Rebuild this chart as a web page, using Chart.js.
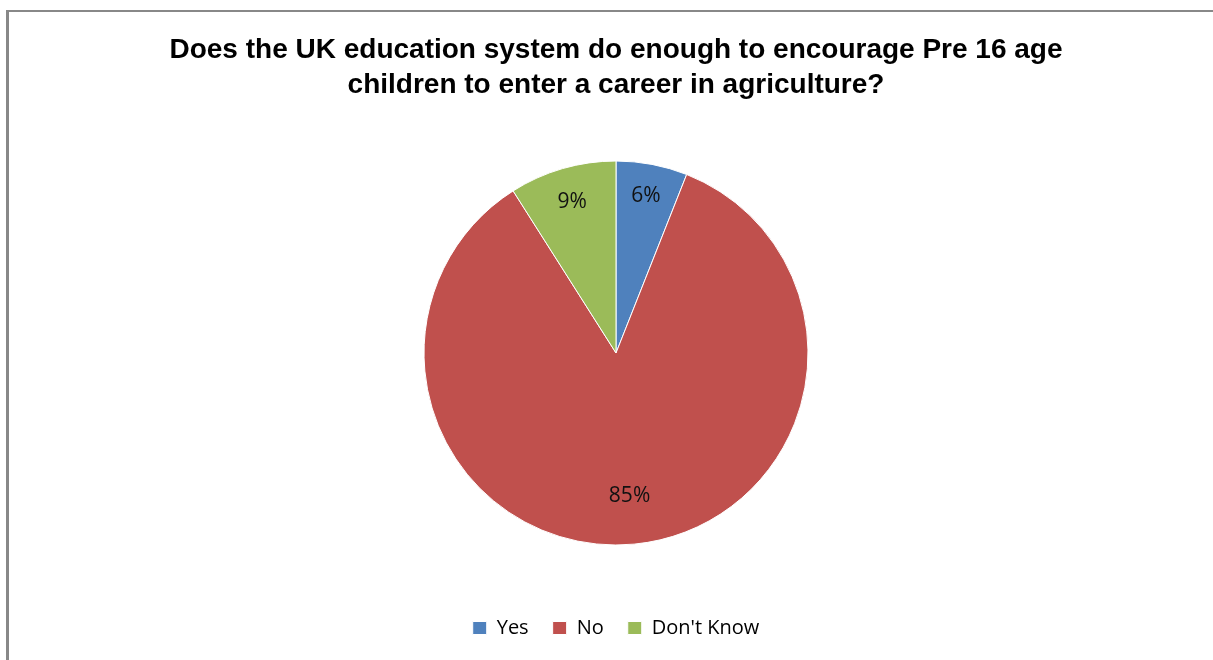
<!DOCTYPE html>
<html>
<head>
<meta charset="utf-8">
<script src="https://cdn.jsdelivr.net/npm/chart.js@4"></script>
<style>
    body { margin: 0; background: #fff; }
    #wrap { position: relative; width: 1213px; height: 660px; }
    #frame {
        position: absolute; left: 6px; top: 10px; right: -10px; bottom: -10px;
        border-left: 3px solid #888; border-top: 2px solid #888;
        pointer-events: none;
    }
</style>
</head>
<body>
<div id="wrap">
    <canvas id="grafico" width="1213" height="660"></canvas>
    <div id="frame"></div>
</div>
<script>
// Dados do gráfico
const categorias = ["Yes", "No", "Don't Know"];
const percentuais = [6, 85, 9];
const cores = ["#4F81BD", "#C0504D", "#9BBB59"];
const titulo = ["Does the UK education system do enough to encourage Pre 16 age", "children to enter a career in agriculture?"];

// distância dos rótulos ao centro (fração do raio), como no Excel "best fit"
const posRotulos = [0.83, 0.75, 0.82];

// Plugin simples para escrever as porcentagens dentro das fatias
const rotulosPlugin = {
    id: "rotulos",
    afterDatasetsDraw(chart) {
        const ctx = chart.ctx;
        const meta = chart.getDatasetMeta(0);
        ctx.save();
        ctx.font = "21px 'Open Sans'";
        ctx.fillStyle = "#111";
        ctx.textAlign = "center";
        ctx.textBaseline = "middle";
        meta.data.forEach((arc, i) => {
            const p = arc.getProps(["x", "y", "startAngle", "endAngle", "outerRadius"], true);
            const ang = (p.startAngle + p.endAngle) / 2;
            const r = p.outerRadius * posRotulos[i];
            ctx.fillText(percentuais[i] + "%", p.x + Math.cos(ang) * r, p.y + Math.sin(ang) * r);
        });
        ctx.restore();
    }
};

const ctx = document.getElementById("grafico").getContext("2d");

new Chart(ctx, {
    type: "pie",
    data: {
        labels: categorias,
        datasets: [{
            data: percentuais,
            backgroundColor: cores,
            borderColor: "#fff",
            borderWidth: 1,
            hoverOffset: 0
        }]
    },
    options: {
        responsive: false,
        animation: false,
        radius: 192,
        layout: {
            padding: { left: 19, right: 0, top: 0, bottom: 12 }
        },
        plugins: {
            title: {
                display: true,
                text: titulo,
                color: "#000",
                font: { family: "'Liberation Sans', Arial", size: 28, weight: "bold", lineHeight: 1.25 },
                padding: { top: 33, bottom: 9 }
            },
            legend: {
                display: true,
                position: "bottom",
                labels: {
                    color: "#000",
                    font: { family: "'Open Sans'", size: 20 },
                    boxWidth: 14,
                    boxHeight: 13,
                    padding: 24
                }
            },
            tooltip: { enabled: false }
        }
    },
    plugins: [rotulosPlugin]
});
</script>
</body>
</html>
